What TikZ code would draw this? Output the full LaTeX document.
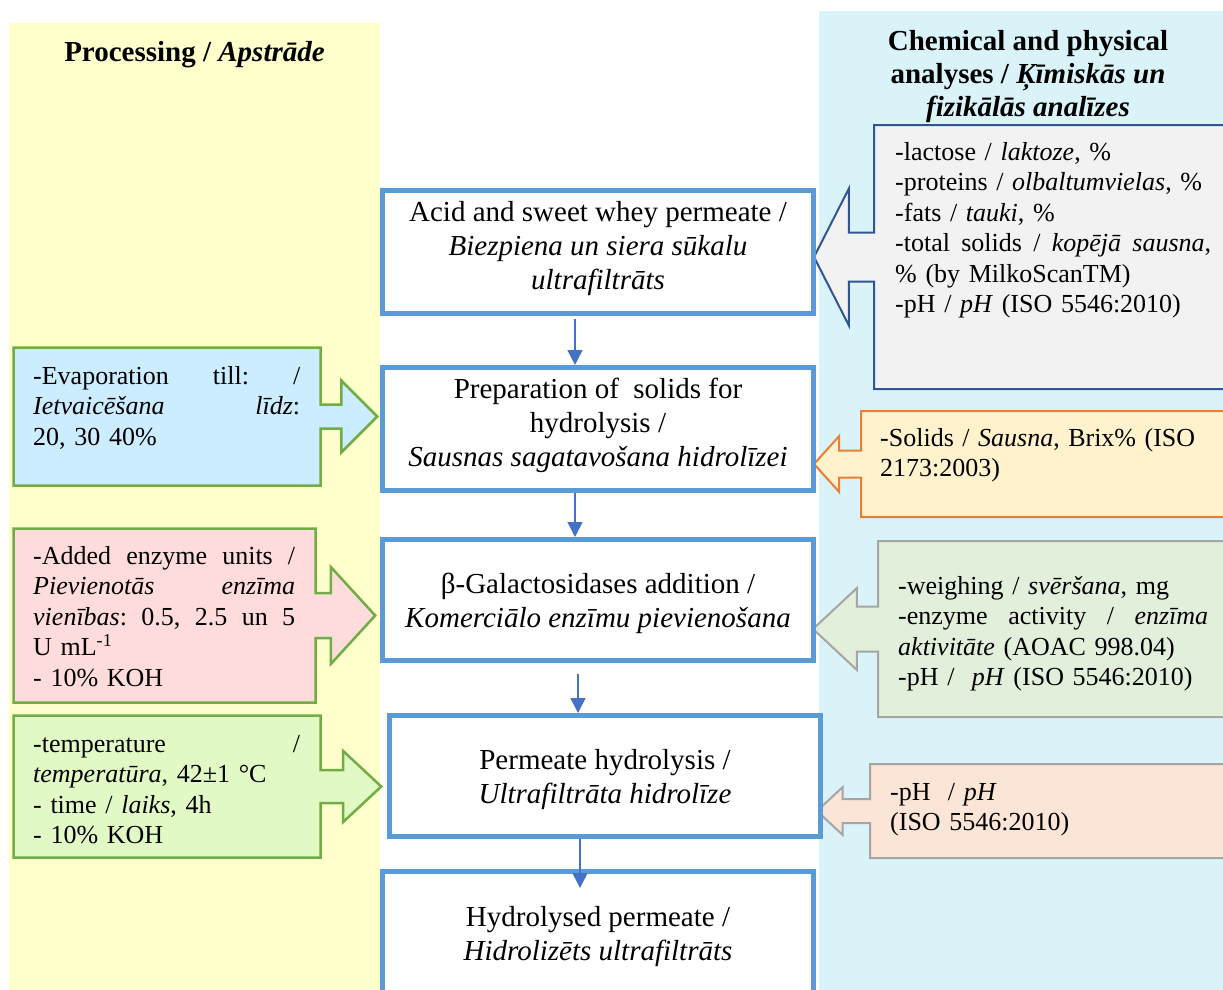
\documentclass[tikz,border=0pt]{standalone}
\usepackage{fontspec}
\setmainfont{Liberation Serif}
\usetikzlibrary{shapes,arrows.meta,positioning}
\definecolor{ProcessBand}{RGB}{255,255,204}
\definecolor{AnalysisBand}{RGB}{218,243,248}
\definecolor{BoxBlue}{RGB}{91,155,213}
\definecolor{ArrowBlue}{RGB}{68,114,196}
\definecolor{DarkBlue}{RGB}{47,85,151}
\definecolor{InGreen}{RGB}{112,173,71}
\definecolor{OutOrange}{RGB}{237,125,49}
\definecolor{OutGray}{RGB}{165,165,165}
\definecolor{EvapColor}{RGB}{204,236,255}
\definecolor{EnzymeColor}{RGB}{255,220,220}
\definecolor{TempColor}{RGB}{225,250,197}
\definecolor{ChemColor}{RGB}{242,242,242}
\definecolor{BrixColor}{RGB}{255,242,204}
\definecolor{ActColor}{RGB}{226,239,218}
\definecolor{PhColor}{RGB}{251,229,214}
\newcommand{\boxfont}{\fontsize{29}{34}\selectfont}
\newcommand{\sidefont}{\fontsize{26}{30.5}\selectfont}
\newcommand{\titlefont}{\fontsize{29}{33}\selectfont\bfseries}
% justified line: words separated by \hfill
\newcommand{\fullline}[2]{\leavevmode\hbox to #1{#2}}
\newcommand{\toppad}{\rule{0pt}{28pt}}
\newcommand{\botpad}{\rule[-14pt]{0pt}{14pt}}
\tikzset{
    process/.style={rectangle, draw=BoxBlue, line width=5pt, fill=white, minimum width=431pt, minimum height=123pt, inner sep=0pt, align=center, font=\boxfont},
    callout/.style={arrow box, inner sep=0pt, line width=2.5pt},
    incallout/.style={callout, draw=InGreen},
    outcallout/.style={callout, line width=2pt},
    sidetext/.style={anchor=north west, inner sep=0pt, align=left, font=\sidefont},
    connection/.style={-{Triangle[length=15pt,width=15pt]}, draw=ArrowBlue, line width=1.5pt}
}
\begin{document}
\begin{tikzpicture}[x=1pt, y=-1pt]
\useasboundingbox (0,0) rectangle (1223,990);
\clip (0,0) rectangle (1223,990);

% Background bands
\fill [ProcessBand] (9,23) rectangle (380,1000);
\fill [AnalysisBand] (819,11) rectangle (1230,1000);

% Titles
\node (proctitle) [font=\titlefont] at (194.5,55) {Processing / \textit{Apstrāde}};
\node (chemtitle) [font=\titlefont, align=center] at (1028,76.5) {Chemical and physical\\analyses / \textit{Ķīmiskās un}\\\textit{fizikālās analīzes}};

% Processing inputs
\node (evap) [incallout, fill=EvapColor, minimum width=307pt, minimum height=138pt, arrow box arrows={east:55.5pt}, arrow box shaft width=24pt, arrow box head extend=24pt, arrow box tip angle=90] at (167,416.5) {};
\node (enzyme) [incallout, fill=EnzymeColor, minimum width=302pt, minimum height=174pt, arrow box arrows={east:58.5pt}, arrow box shaft width=45pt, arrow box head extend=26pt, arrow box tip angle=95] at (164.5,615.5) {};
\node (temp) [incallout, fill=TempColor, minimum width=307pt, minimum height=142pt, arrow box arrows={east:59.5pt}, arrow box shaft width=33pt, arrow box head extend=19pt, arrow box tip angle=86] at (167,786.5) {};

% Analyses
\node (chem) [outcallout, draw=DarkBlue, fill=ChemColor, minimum width=386pt, minimum height=264pt, arrow box arrows={west:59pt}, arrow box shaft width=49pt, arrow box head extend=44pt, arrow box tip angle=126] at (1067,257) {};
\node (brix) [outcallout, draw=OutOrange, fill=BrixColor, minimum width=399pt, minimum height=106pt, arrow box arrows={west:46pt}, arrow box shaft width=27pt, arrow box head extend=14.5pt, arrow box tip angle=96] at (1060.5,464) {};
\node (enzact) [outcallout, draw=OutGray, fill=ActColor, minimum width=382pt, minimum height=176pt, arrow box arrows={west:64pt}, arrow box shaft width=45pt, arrow box head extend=18.5pt, arrow box tip angle=86] at (1069,629) {};
\node (phbox) [outcallout, draw=OutGray, fill=PhColor, minimum width=390pt, minimum height=94pt, arrow box arrows={west:52pt}, arrow box shaft width=24pt, arrow box head extend=12pt, arrow box tip angle=86] at (1065,811) {};

% Process steps
\node (box1) [process] at (598,252) {Acid and sweet whey permeate /\\\textit{Biezpiena un siera sūkalu}\\\textit{ultrafiltrāts}\botpad};
\node (box2) [process, below=49pt of box1] {Preparation of~ solids for\\hydrolysis /\\\textit{Sausnas sagatavošana hidrolīzei}\botpad};
\node (box3) [process, below=44pt of box2, minimum height=121pt] {\toppad β-Galactosidases addition /\\\textit{Komerciālo enzīmu pievienošana}};
\node (box4) [process, below=50pt of box3, xshift=7pt, minimum height=121pt] {\toppad Permeate hydrolysis /\\\textit{Ultrafiltrāta hidrolīze}};
\node (box5) [process, below=30pt of box4, xshift=-7pt] {\toppad Hydrolysed permeate /\\\textit{Hidrolizēts ultrafiltrāts}};

% Connections
\draw [connection, shorten <=3pt] ([xshift=-23pt]box1.south) -- ([xshift=-23pt]box2.north);
\draw [connection] ([xshift=-23pt]box2.south) -- ([xshift=-23pt]box3.north);
\draw [connection, shorten <=11pt] ([xshift=-20pt]box3.south) -- ([xshift=-27pt]box4.north);
\draw [connection, shorten >=-19pt] ([xshift=-25pt]box4.south) -- ([xshift=-18pt]box5.north);

% Callout texts
\node (evaptext) [sidetext, text width=267pt] at (33,366) {\fullline{267pt}{-Evaporation\hfill till:\hfill /}\\\fullline{267pt}{\textit{Ietvaicēšana}\hfill\textit{līdz}:}\\20, 30 40\%};
\node (enzymetext) [sidetext, text width=262pt] at (33,546) {\fullline{262pt}{-Added\hfill enzyme\hfill units\hfill /}\\\fullline{262pt}{\textit{Pievienotās}\hfill\textit{enzīma}}\\\fullline{262pt}{\textit{vienības}:\hfill 0.5,\hfill 2.5\hfill un\hfill 5}\\U mL\textsuperscript{-1}\\- 10\% KOH};
\node (temptext) [sidetext, text width=267pt] at (33,735) {\fullline{267pt}{-temperature\hfill /}\\\textit{temperatūra}, 42±1 °C\\- time / \textit{laiks}, 4h\\- 10\% KOH};
\node (chemtext) [sidetext, text width=316pt] at (895,142) {-lactose / \textit{laktoze}, \%\\-proteins / \textit{olbaltumvielas}, \%\\-fats / \textit{tauki}, \%\\\fullline{316pt}{-total\hfill solids\hfill /\hfill\textit{kopējā}\hfill\textit{sausna},}\\\% (by MilkoScanTM)\\-pH / \textit{pH} (ISO 5546:2010)};
\node (brixtext) [sidetext, text width=315pt] at (880,428) {\fullline{315pt}{-Solids\hfill /\hfill\textit{Sausna},\hfill Brix\%\hfill (ISO}\\2173:2003)};
\node (enzacttext) [sidetext, text width=310pt] at (898,576) {-weighing / \textit{svēršana}, mg\\\fullline{310pt}{-enzyme\hfill activity\hfill /\hfill\textit{enzīma}}\\\textit{aktivitāte} (AOAC 998.04)\\-pH /~ \textit{pH} (ISO 5546:2010)};
\node (phtext) [sidetext, text width=300pt] at (890,783) {-pH~ / \textit{pH}\\(ISO 5546:2010)};

\end{tikzpicture}
\end{document}
